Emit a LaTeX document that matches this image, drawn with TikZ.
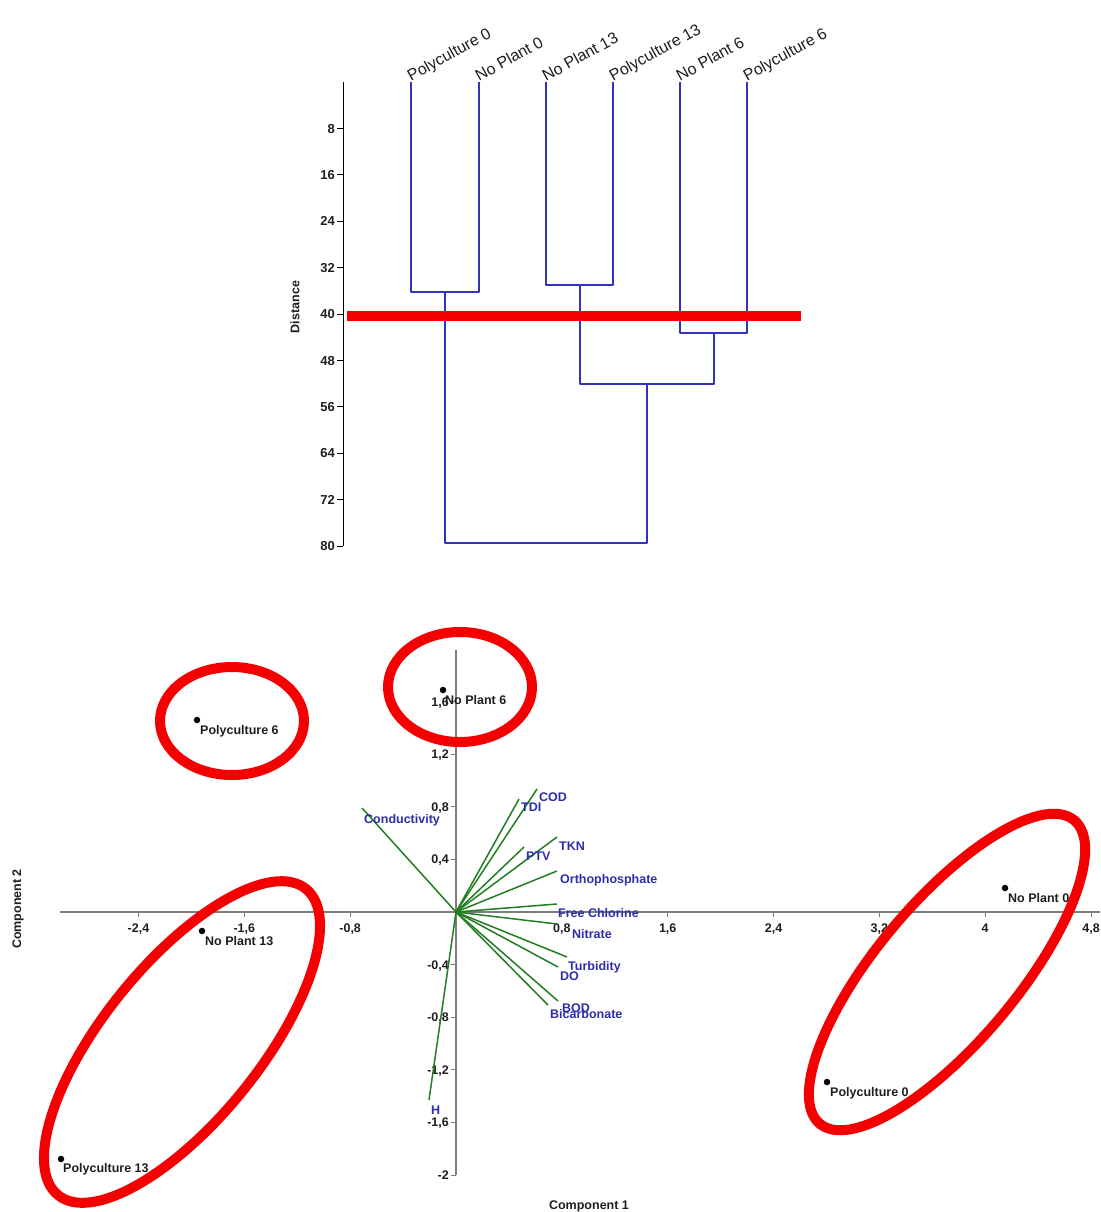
\documentclass[tikz,border=0pt]{standalone}
\usepackage{fontspec}
\setmainfont{Liberation Sans}
\usetikzlibrary{shapes.geometric}
\definecolor{dblue}{RGB}{50,50,190}
\definecolor{vgreen}{RGB}{35,125,35}
\definecolor{lblue}{RGB}{45,45,170}
\definecolor{axgray}{RGB}{125,125,125}
\definecolor{ringred}{RGB}{245,0,0}
\definecolor{txt}{RGB}{30,30,30}
\tikzset{
 dline/.style={draw=dblue, line width=1.8pt, line join=round},
 dtick/.style={font=\fontsize{13}{15}\selectfont\bfseries, text=txt, inner sep=0, anchor=base east},
 leaflab/.style={font=\fontsize{16}{18}\selectfont, text=txt, inner sep=0, anchor=base west, rotate=29},
 axline/.style={draw=axgray, line width=1.2pt},
 btick/.style={font=\fontsize{12.5}{15}\selectfont\bfseries, text=txt, inner sep=0},
 vec/.style={draw=vgreen, line width=1.5pt},
 vlab/.style={font=\fontsize{12.5}{15}\selectfont\bfseries, text=lblue, inner sep=0, anchor=base west},
 dot/.style={circle, fill=black, inner sep=0, minimum size=6.5pt},
 plab/.style={font=\fontsize{12.5}{15}\selectfont\bfseries, text=txt, inner sep=0, anchor=base west},
 ring/.style={ellipse, draw=ringred, line width=10pt, inner sep=0},
 atitle/.style={font=\fontsize{12.5}{15}\selectfont\bfseries, text=txt, inner sep=0},
}
\begin{document}
\begin{tikzpicture}[x=1pt,y=-1pt]
\useasboundingbox (0,0) rectangle (1100,1212);

% ---------------- Dendrogram ----------------
\draw[black, line width=1pt] (343,82) -- (343,546);
\foreach \d in {8,16,...,80}{
  \draw[black, line width=1pt] (337,{82+5.8*\d}) -- (343,{82+5.8*\d});
  \node[dtick] (dt\d) at (335,{82+5.8*\d+4.7}) {\d};
}
\node[atitle, rotate=90] (dist) at (295,307) {Distance};

\coordinate (l1) at (411,82);
\coordinate (l2) at (479,82);
\coordinate (l3) at (546,82);
\coordinate (l4) at (613,82);
\coordinate (l5) at (680,82);
\coordinate (l6) at (747,82);
\coordinate (m12) at (445,292);
\coordinate (m34) at (580,285);
\coordinate (m56) at (714,333);
\coordinate (m3456) at (647,384);
\coordinate (root) at (546,543);

\draw[dline] (l1) |- (m12) -| (l2);
\draw[dline] (l3) |- (m34) -| (l4);
\draw[dline] (l5) |- (m56) -| (l6);
\draw[dline] (m34) |- (m3456) -| (m56);
\draw[dline] (m12) |- (root) -| (m3456);

\node[leaflab] (t1) at (l1) {Polyculture 0};
\node[leaflab] (t2) at (l2) {No Plant 0};
\node[leaflab] (t3) at (l3) {No Plant 13};
\node[leaflab] (t4) at (l4) {Polyculture 13};
\node[leaflab] (t5) at (l5) {No Plant 6};
\node[leaflab] (t6) at (l6) {Polyculture 6};

\coordinate (cutL) at (347,316);
\coordinate (cutR) at (801,316);
\draw[draw=ringred, line width=10pt] (cutL) -- (cutR);

% ---------------- Biplot ----------------
\coordinate (O) at (456,912);
\coordinate (xL) at (60,912);
\coordinate (xR) at (1100,912);
\coordinate (yT) at (456,650);
\coordinate (yB) at (456,1175);
\draw[axline] (xL) -- (xR);
\draw[axline] (yT) -- (yB);

\foreach \v/\t [count=\i] in {-2.4/{-2,4},-1.6/{-1,6},-0.8/{-0,8},0.8/{0,8},1.6/{1,6},2.4/{2,4},3.2/{3,2},4/{4},4.8/{4,8}}{
  \draw[axline, line width=1pt] ({456+132.3*\v},912) -- ({456+132.3*\v},917);
  \node[btick, anchor=base] (xt\i) at ({456+132.3*\v},932) {\t};
}
\foreach \v/\t [count=\i] in {1.6/{1,6},1.2/{1,2},0.8/{0,8},0.4/{0,4},-0.4/{-0,4},-0.8/{-0,8},-1.2/{-1,2},-1.6/{-1,6},-2/{-2}}{
  \draw[axline, line width=1pt] (451,{912-131.5*\v}) -- (456,{912-131.5*\v});
  \node[btick, anchor=base east] (yt\i) at (449,{912-131.5*\v+4.5}) {\t};
}

\node[atitle] (c1) at (589,1206) {Component 1};
\node[atitle, rotate=90] (c2) at (18,909) {Component 2};

% loading vectors
\coordinate (vCond) at (362,808);
\coordinate (vTDI) at (519,799);
\coordinate (vCOD) at (537,789);
\coordinate (vPTV) at (524,847);
\coordinate (vTKN) at (557,837);
\coordinate (vOrtho) at (557,871);
\coordinate (vFree) at (557,904);
\coordinate (vNit) at (557,924);
\coordinate (vTurb) at (567,957);
\coordinate (vDO) at (558,967);
\coordinate (vBOD) at (558,1001);
\coordinate (vBic) at (548,1005);
\coordinate (vH) at (429,1100);
\foreach \n in {vCond,vTDI,vCOD,vPTV,vTKN,vOrtho,vFree,vNit,vTurb,vDO,vBOD,vBic,vH}{
  \draw[vec] (O) -- (\n);
}

\node[vlab] (lCond) at (364,823.5) {Conductivity};
\node[vlab] (lTDI) at (521,811.5) {TDI};
\node[vlab] (lCOD) at (539,801) {COD};
\node[vlab] (lPTV) at (526,860) {PTV};
\node[vlab] (lTKN) at (559,850) {TKN};
\node[vlab] (lOrtho) at (560,883.5) {Orthophosphate};
\node[vlab] (lFree) at (558,917.5) {Free Chlorine};
\node[vlab] (lNit) at (572,938.5) {Nitrate};
\node[vlab] (lTurb) at (568,970.5) {Turbidity};
\node[vlab] (lDO) at (560,980.5) {DO};
\node[vlab] (lBOD) at (562,1012) {BOD};
\node[vlab] (lBic) at (550,1018.5) {Bicarbonate};
\node[vlab] (lH) at (431,1114.5) {H};

% sample points
\node[dot] (pP6) at (197,720) {};
\node[dot] (pN6) at (443,690) {};
\node[dot] (pN13) at (202,931) {};
\node[dot] (pP13) at (61,1159) {};
\node[dot] (pN0) at (1005,888) {};
\node[dot] (pP0) at (827,1082) {};
\node[plab] (sP6) at (200,734.5) {Polyculture 6};
\node[plab] (sN6) at (445,704.5) {No Plant 6};
\node[plab] (sN13) at (205,945) {No Plant 13};
\node[plab] (sP13) at (63,1172) {Polyculture 13};
\node[plab] (sN0) at (1008,902) {No Plant 0};
\node[plab] (sP0) at (830,1096.5) {Polyculture 0};

% grouping rings
\node[ring, minimum width=144pt, minimum height=108pt] (rP6) at (232,721) {};
\node[ring, minimum width=144pt, minimum height=110pt] (rN6) at (460,687) {};
\node[ring, minimum width=394pt, minimum height=156pt, rotate=51] (rL) at (182,1042) {};
\node[ring, minimum width=396pt, minimum height=140pt, rotate=50] (rR) at (947,972) {};
\end{tikzpicture}
\end{document}
